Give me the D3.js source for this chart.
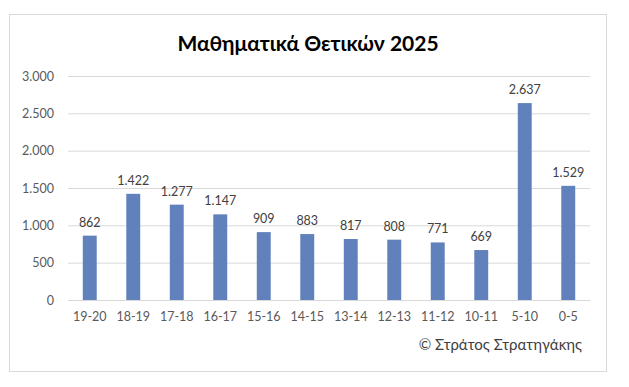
<!DOCTYPE html>
<html><head><meta charset="utf-8">
<script src="https://cdn.jsdelivr.net/npm/d3@7"></script>
<style>body{margin:0;background:#fff}svg{display:block}</style>
</head><body><svg id="c" width="629" height="387"></svg>
<script>
const categories = ["19-20","18-19","17-18","16-17","15-16","14-15","13-14","12-13","11-12","10-11","5-10","0-5"];
const values = [862,1422,1277,1147,909,883,817,808,771,669,2637,1529];
const yTicks = [0,500,1000,1500,2000,2500,3000];
const title = "Μαθηματικά Θετικών 2025";
const credit = "© Στράτος Στρατηγάκης";

const svg = d3.select("#c");
const font = "Lato, 'Open Sans', sans-serif";
const fmt = v => d3.format(",")(v).replace(/,/g, ".");
svg.append("rect").attr("x",9.5).attr("y",14.5).attr("width",597).attr("height",357)
  .attr("fill","#fff").attr("stroke","#d9d9d9");

const x = d3.scaleBand().domain(categories).range([68,590]).paddingInner(0.68).paddingOuter(0.34);
const y = d3.scaleLinear().domain([0,3000]).range([300,76]);

svg.append("text").attr("x",308).attr("y",51).attr("text-anchor","middle")
  .attr("font-family",font).attr("font-weight","bold").attr("font-size",21).attr("fill","#000").text(title);

const ga = svg.append("g").attr("transform","translate(68,0)")
  .call(d3.axisLeft(y).tickValues(yTicks).tickSize(-522).tickFormat(fmt).tickPadding(14));
ga.select(".domain").remove();
ga.selectAll(".tick line").attr("stroke","#d9d9d9");
ga.selectAll(".tick text").attr("font-family",font).attr("font-size",12.5).attr("fill","#595959");

const gx = svg.append("g").attr("transform","translate(0,300)")
  .call(d3.axisBottom(x).tickSize(0).tickPadding(12));
gx.select(".domain").attr("stroke","#d9d9d9");
gx.selectAll(".tick text").attr("font-family",font).attr("font-size",12.5).attr("fill","#595959");

svg.selectAll(".bar").data(values).join("rect").attr("class","bar")
  .attr("x",(d,i)=>x(categories[i])).attr("width",x.bandwidth())
  .attr("y",d=>y(d)).attr("height",d=>300-y(d)).attr("fill","#6081bb");

svg.selectAll(".lbl").data(values).join("text").attr("class","lbl")
  .attr("x",(d,i)=>x(categories[i])+x.bandwidth()/2).attr("y",d=>y(d)-9)
  .attr("text-anchor","middle").attr("font-family",font).attr("font-size",12.5).attr("fill","#404040")
  .text(fmt);

svg.append("text").attr("x",582).attr("y",350).attr("text-anchor","end")
  .attr("font-family",font).attr("font-size",15).attr("fill","#404040").text(credit);
</script></body></html>
